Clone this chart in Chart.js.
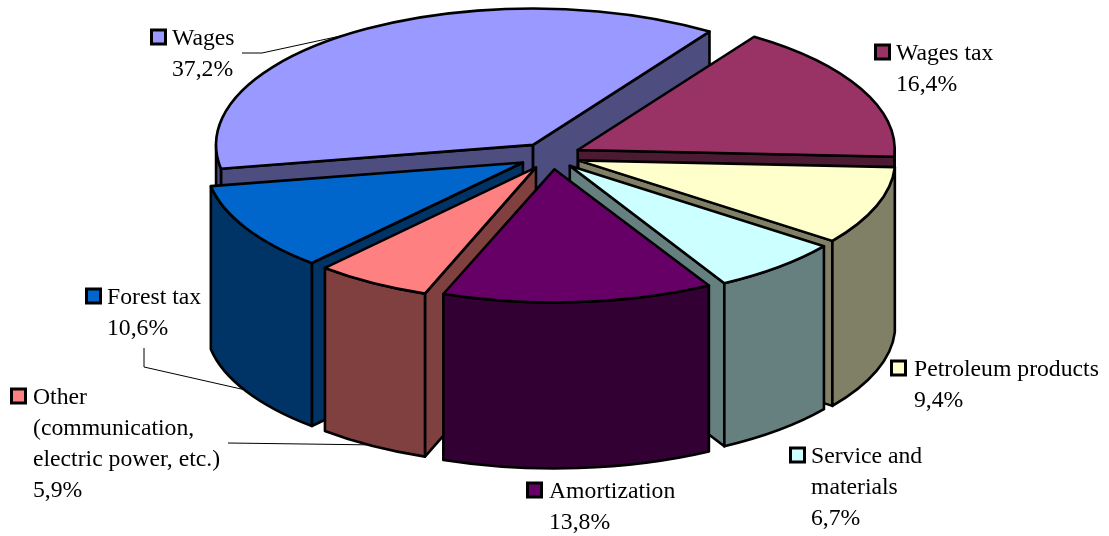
<!DOCTYPE html>
<html>
<head>
<meta charset="utf-8">
<style>html,body{margin:0;padding:0;background:#fff}canvas{display:block}</style>
<script src="https://cdn.jsdelivr.net/npm/chart.js@4"></script>
</head>
<body>
<canvas id="c" width="1109" height="536"></canvas>
<script>
const categories = [["Wages"],["Wages tax"],["Petroleum products"],["Service and","materials"],["Amortization"],["Other","(communication,","electric power, etc.)"],["Forest tax"]];
const shares = [37.2,16.4,9.4,6.7,13.8,5.9,10.6];
const topColors = ["#9999FF","#993366","#FFFFCC","#CCFFFF","#660066","#FF8080","#0066CC"];
const sideColors = ["#4D4D80","#4D1A33","#808066","#668080","#330033","#804040","#003366"];
const explode = [31,31,30,30,31,31,31];
const nudgeX = [0,0,0,0,2,2,0];
const tilt = [0.43,0.43,0.425,0.425,0.42,0.425,0.425];
const depth = [165,30,165,163,166,163,163];
const labelX = [172,896,914,811,549,33,107];
const labelY = [45,60,376,463,498,404,304];
const markerX = [151,875,891,790,527,11,86];
const leaders = [
  [[242,53],[262,53],[345,35]],
  [[144,348],[144,367],[250,391]],
  [[228,443],[380,445]]
];
const CX=550, CY=156, ROTATION=-100.1, RADIUS=317;
const LINE=31, FONT='23.7px "Liberation Serif"';

function sideShape(a){
  const r=a.outerRadius, TAU=Math.PI*2;
  let a0=a.startAngle%TAU; if(a0<0)a0+=TAU;
  const a1=a0+(a.endAngle-a.startAngle);
  return {r,a0,a1,mid:(a0+a1)/2};
}
const pie3d={
  id:'pie3d',
  beforeDatasetsDraw(chart){
    const ctx=chart.ctx, arcs=chart.getDatasetMeta(0).data;
    ctx.save();
    ctx.strokeStyle='#000';ctx.lineWidth=1;
    leaders.forEach(l=>{ctx.beginPath();l.forEach((p,j)=>j?ctx.lineTo(p[0],p[1]):ctx.moveTo(p[0],p[1]));ctx.stroke();});
    ctx.restore();
    const order=arcs.map((a,i)=>i).sort((p,q)=>Math.sin(sideShape(arcs[p]).mid)-Math.sin(sideShape(arcs[q]).mid));
    order.forEach(i=>{
      const a=arcs[i], s=sideShape(a), K=tilt[i], H=depth[i];
      const ox=CX+nudgeX[i]+Math.cos(s.mid)*explode[i], oy=CY+Math.sin(s.mid)*explode[i]*0.43;
      const px=t=>ox+Math.cos(t)*s.r, py=t=>oy+Math.sin(t)*s.r*K;
      ctx.save();
      ctx.lineWidth=2.6; ctx.strokeStyle='#000'; ctx.lineJoin='round'; ctx.fillStyle=sideColors[i];
      const face=t=>{
        ctx.beginPath();ctx.moveTo(ox,oy);ctx.lineTo(px(t),py(t));ctx.lineTo(px(t),py(t)+H);ctx.lineTo(ox,oy+H);ctx.closePath();ctx.fill();ctx.stroke();
      };
      if(Math.cos(s.a0)<0) face(s.a0);
      if(Math.cos(s.a1)>0) face(s.a1);
      [0,Math.PI*2].forEach(k=>{
        const lo=Math.max(s.a0,k), hi=Math.min(s.a1,k+Math.PI);
        if(hi>lo){
          ctx.beginPath();
          ctx.ellipse(ox,oy,s.r,s.r*K,0,lo,hi);
          ctx.lineTo(px(hi),py(hi)+H);
          ctx.ellipse(ox,oy+H,s.r,s.r*K,0,hi,lo,true);
          ctx.closePath();ctx.fill();ctx.stroke();
        }
      });
      ctx.save();
      ctx.translate(ox,oy);ctx.scale(1,K);ctx.translate(-a.x,-a.y);
      a.draw(ctx);
      ctx.restore();
      ctx.beginPath();ctx.moveTo(ox,oy);ctx.ellipse(ox,oy,s.r,s.r*K,0,s.a0,s.a1);ctx.closePath();ctx.stroke();
      ctx.restore();
    });
    return false;
  },
  afterDraw(chart){
    const ctx=chart.ctx;
    ctx.save();
    ctx.font=FONT;ctx.textAlign='left';ctx.textBaseline='alphabetic';
    categories.forEach((lines,i)=>{
      const y=labelY[i];
      ctx.fillStyle=topColors[i];ctx.strokeStyle='#000';ctx.lineWidth=3;
      ctx.fillRect(markerX[i]+0.5,y-15,14,14);ctx.strokeRect(markerX[i]+0.5,y-15,14,14);
      ctx.fillStyle='#000';
      lines.forEach((t,j)=>ctx.fillText(t,labelX[i],y+j*LINE));
      ctx.fillText(String(shares[i]).replace('.',',')+'%',labelX[i],y+lines.length*LINE);
    });
    ctx.restore();
  }
};
new Chart(document.getElementById('c'),{
  type:'pie',
  data:{labels:categories.map(l=>l.join(' ')),datasets:[{data:shares,backgroundColor:topColors,borderWidth:0}]},
  options:{responsive:false,animation:false,radius:RADIUS,rotation:ROTATION,
    plugins:{legend:{display:false},tooltip:{enabled:false}},events:[]},
  plugins:[pie3d]
});
</script>
</body>
</html>
